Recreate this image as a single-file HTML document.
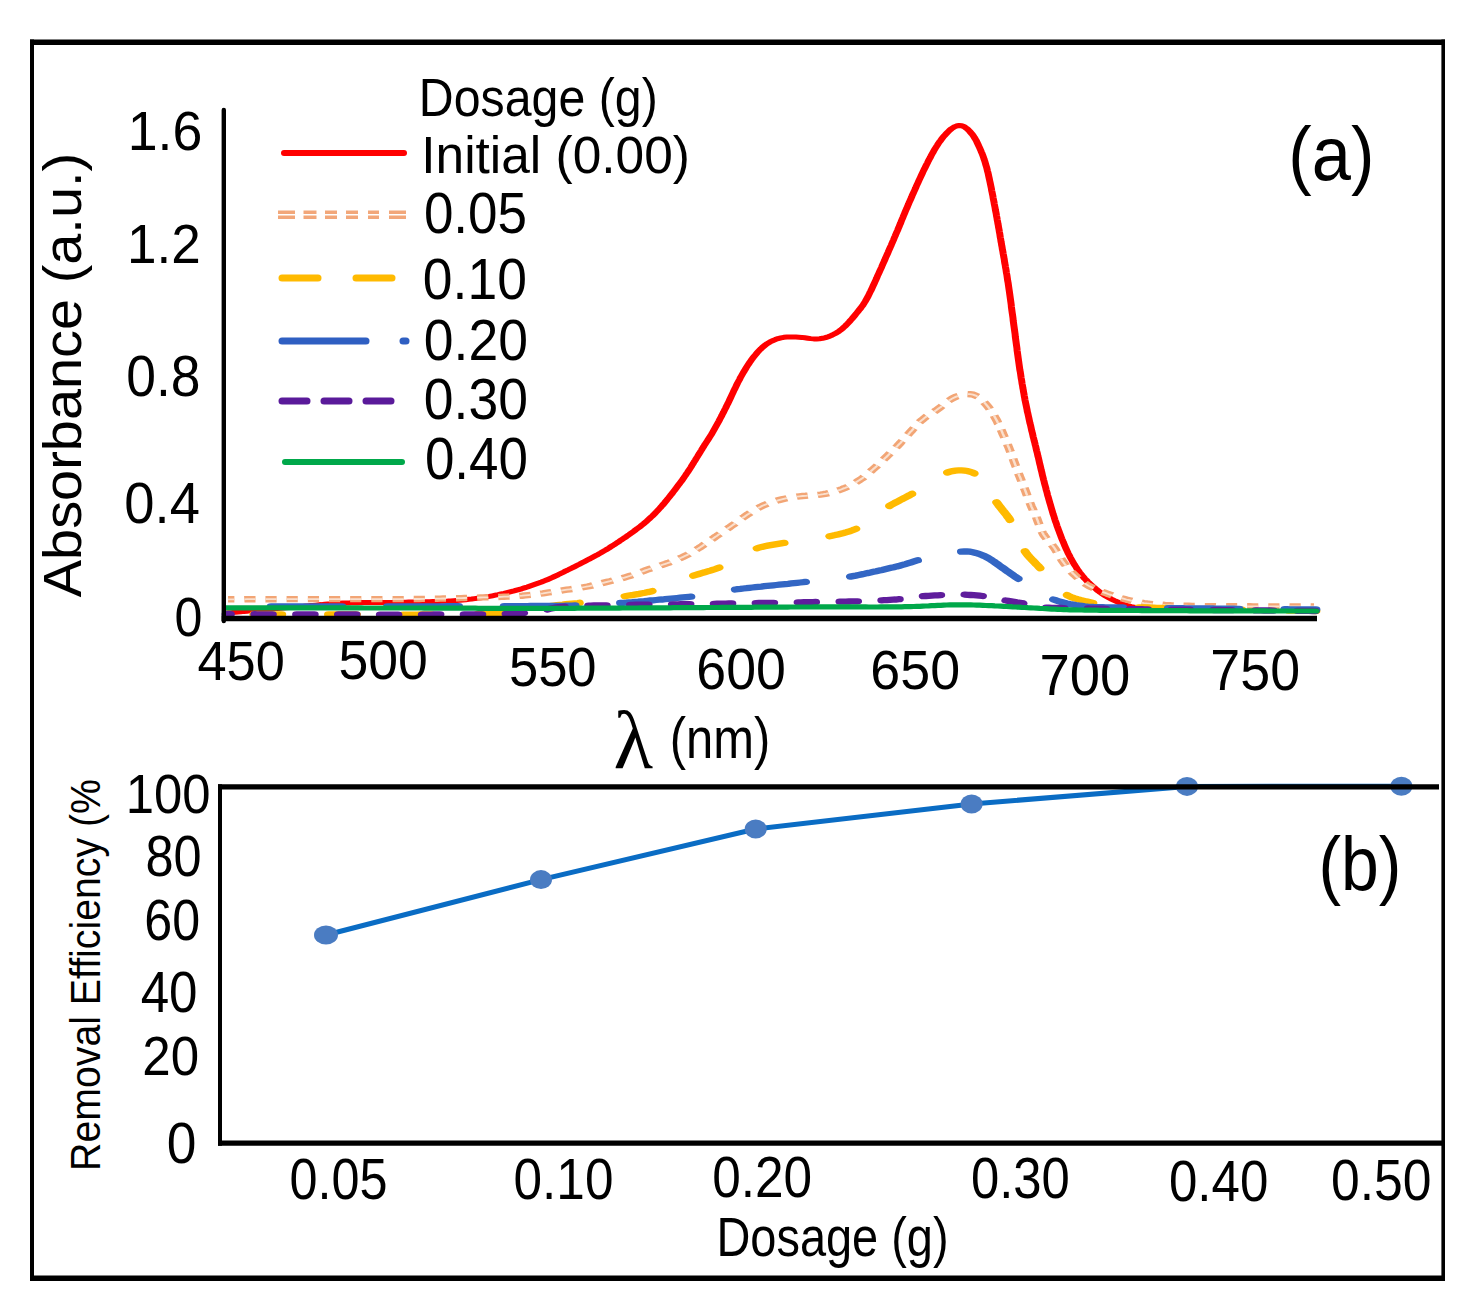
<!DOCTYPE html>
<html><head><meta charset="utf-8"><title>Chart</title>
<style>html,body{margin:0;padding:0;background:#fff;width:1479px;height:1308px;overflow:hidden} svg{display:block}</style>
</head><body>
<svg width="1479" height="1308" viewBox="0 0 1479 1308">
<style>
.ss{font-family:"Liberation Sans",sans-serif;font-size:100px;fill:#000}
.sr{font-family:"Liberation Serif",serif;font-size:100px;fill:#000}
</style>
<rect x="0" y="0" width="1479" height="1308" fill="#fff"/>
<!-- outer border -->
<g stroke="#000" fill="none">
<line x1="30" y1="42.25" x2="1445" y2="42.25" stroke-width="5.5"/>
<line x1="30" y1="1278.25" x2="1445" y2="1278.25" stroke-width="5.5"/>
<line x1="32" y1="39.5" x2="32" y2="1281" stroke-width="4"/>
<line x1="1443.2" y1="39.5" x2="1443.2" y2="1281" stroke-width="3.6"/>
</g>
<!-- panel a curves -->
<g transform="matrix(1.4 0 0 1 -89.600 0)" fill="none">
<path d="M225.4,613.0 227.6,612.7 229.7,612.5 231.8,612.2 234.0,611.9 236.1,611.7 238.2,611.4 240.4,611.2 242.5,610.9 244.7,610.6 246.8,610.4 248.9,610.1 251.1,609.8 253.2,609.6 255.3,609.3 257.5,609.0 259.6,608.8 261.7,608.5 263.9,608.2 266.0,608.0 268.2,607.7 270.3,607.5 272.4,607.2 274.6,606.9 276.7,606.7 278.8,606.4 281.0,606.2 283.1,605.9 285.2,605.6 287.4,605.4 289.5,605.1 291.7,604.8 293.8,604.6 295.9,604.3 298.1,604.1 300.2,603.9 302.3,603.7 304.5,603.5 306.6,603.3 308.8,603.1 310.9,603.0 313.1,602.9 315.2,602.8 317.3,602.7 319.5,602.7 321.6,602.6 323.8,602.6 325.9,602.6 328.1,602.5 330.2,602.5 332.4,602.5 334.5,602.5 336.6,602.5 338.8,602.5 340.9,602.4 343.1,602.4 345.2,602.4 347.4,602.3 349.5,602.3 351.7,602.2 353.8,602.2 355.9,602.1 358.1,602.1 360.2,602.0 362.4,602.0 364.5,601.9 366.7,601.8 368.8,601.8 370.9,601.7 373.1,601.6 375.2,601.5 377.4,601.4 379.5,601.3 381.7,601.2 383.8,601.1 385.9,600.9 388.1,600.7 390.2,600.5 392.4,600.3 394.5,600.0 396.6,599.7 398.8,599.3 400.9,599.0 403.0,598.6 405.1,598.2 407.3,597.8 409.4,597.4 411.5,596.9 413.6,596.4 415.7,595.8 417.8,595.2 419.9,594.6 422.0,593.9 424.1,593.3 426.2,592.6 428.3,591.9 430.4,591.2 432.4,590.4 434.5,589.6 436.6,588.8 438.6,587.9 440.7,587.0 442.7,586.0 444.7,585.0 446.7,584.0 448.8,583.0 450.8,582.0 452.8,580.9 454.8,579.8 456.7,578.6 458.7,577.4 460.6,576.1 462.6,574.8 464.5,573.5 466.4,572.2 468.3,570.8 470.3,569.5 472.2,568.2 474.1,566.9 476.0,565.5 477.9,564.2 479.8,562.8 481.7,561.4 483.6,560.0 485.6,558.6 487.4,557.2 489.3,555.8 491.2,554.4 493.1,552.9 494.9,551.4 496.8,549.9 498.0,548.8 499.2,547.8 500.4,546.7 501.6,545.6 502.8,544.6 504.0,543.5 505.2,542.4 506.4,541.3 507.6,540.1 508.8,539.0 510.0,537.9 511.2,536.8 512.3,535.6 513.5,534.5 514.7,533.3 515.8,532.2 517.0,531.0 518.1,529.8 519.3,528.6 520.4,527.4 521.6,526.2 522.7,524.9 523.8,523.7 524.9,522.4 526.0,521.1 527.0,519.8 528.1,518.4 529.1,517.1 530.2,515.7 531.2,514.3 532.2,512.8 533.2,511.4 534.2,509.9 535.1,508.5 536.1,507.0 537.0,505.5 538.0,504.0 538.9,502.4 539.8,500.9 540.7,499.3 541.6,497.8 542.5,496.2 543.4,494.6 544.3,493.1 545.1,491.5 546.0,489.9 546.9,488.3 547.7,486.7 548.6,485.1 549.5,483.5 550.3,481.9 551.2,480.3 552.0,478.7 552.8,477.0 553.6,475.4 554.4,473.7 555.2,472.1 556.0,470.4 556.8,468.7 557.6,467.0 558.3,465.3 559.1,463.6 559.8,461.9 560.6,460.2 561.3,458.5 562.1,456.8 562.8,455.1 563.6,453.4 564.3,451.7 565.1,450.0 565.8,448.3 566.6,446.6 567.3,444.9 568.1,443.2 568.9,441.5 569.7,439.9 570.4,438.2 571.2,436.5 572.0,434.8 572.7,433.1 573.4,431.4 574.1,429.6 574.8,427.9 575.5,426.1 576.2,424.4 576.9,422.6 577.6,420.8 578.2,419.1 578.9,417.3 579.6,415.5 580.2,413.7 580.9,412.0 581.5,410.2 582.2,408.4 582.8,406.6 583.4,404.8 584.1,403.0 584.7,401.2 585.3,399.4 585.9,397.6 586.5,395.8 587.1,394.0 587.7,392.2 588.3,390.3 589.0,388.5 589.6,386.7 590.2,384.9 590.8,383.1 591.5,381.4 592.2,379.6 592.8,377.8 593.5,376.1 594.2,374.3 594.9,372.6 595.7,370.9 596.4,369.2 597.1,367.5 597.9,365.8 598.7,364.1 599.5,362.4 600.3,360.8 601.1,359.2 602.0,357.6 602.9,356.0 603.8,354.5 604.7,352.9 605.7,351.4 606.6,350.0 607.7,348.6 608.7,347.2 609.8,346.0 610.9,344.8 612.1,343.6 613.9,342.1 615.8,340.7 617.8,339.6 619.8,338.6 621.8,337.9 623.9,337.3 626.1,337.0 628.2,336.9 630.3,336.9 632.5,337.0 634.6,337.2 636.7,337.4 638.9,337.8 641.0,338.2 643.1,338.6 645.2,338.9 647.3,338.9 649.4,338.7 651.5,338.3 653.6,337.6 655.6,336.7 657.6,335.6 659.5,334.3 661.4,332.9 663.2,331.3 664.4,330.1 665.5,328.9 666.5,327.6 667.6,326.2 668.6,324.8 669.6,323.4 670.6,321.9 671.5,320.4 672.5,318.9 673.4,317.4 674.3,315.9 675.2,314.3 676.1,312.8 677.0,311.2 677.9,309.6 678.8,308.1 679.6,306.5 680.5,304.9 681.2,303.2 682.0,301.5 682.7,299.8 683.4,298.0 684.1,296.3 684.7,294.5 685.3,292.7 686.0,290.9 686.6,289.1 687.2,287.2 687.8,285.4 688.4,283.6 689.0,281.8 689.6,280.0 690.2,278.1 690.7,276.3 691.3,274.5 691.9,272.7 692.5,270.8 693.1,269.0 693.7,267.2 694.2,265.4 694.8,263.5 695.4,261.7 696.0,259.9 696.5,258.0 697.1,256.2 697.7,254.4 698.3,252.5 698.8,250.7 699.4,248.9 700.0,247.0 700.6,245.2 701.1,243.4 701.7,241.5 702.3,239.7 702.8,237.8 703.4,236.0 703.9,234.2 704.5,232.3 705.1,230.5 705.6,228.6 706.2,226.8 706.7,224.9 707.3,223.1 707.8,221.2 708.3,219.4 708.9,217.5 709.4,215.7 710.0,213.8 710.5,212.0 711.1,210.1 711.7,208.3 712.2,206.5 712.8,204.6 713.3,202.8 713.9,200.9 714.5,199.1 715.1,197.3 715.6,195.4 716.2,193.6 716.8,191.8 717.4,190.0 718.0,188.1 718.5,186.3 719.1,184.5 719.7,182.7 720.3,180.8 720.9,179.0 721.5,177.2 722.1,175.4 722.7,173.6 723.3,171.8 723.9,170.0 724.6,168.2 725.2,166.4 725.8,164.6 726.5,162.8 727.1,161.0 727.8,159.2 728.5,157.5 729.1,155.7 729.8,153.9 730.5,152.2 731.2,150.4 731.9,148.7 732.7,147.0 733.5,145.3 734.2,143.6 735.0,142.0 735.9,140.4 736.7,138.8 737.6,137.2 738.6,135.7 739.5,134.2 740.5,132.8 741.5,131.4 742.5,130.0 743.6,128.8 745.3,127.2 747.2,126.0 749.1,125.5 750.9,125.8 752.8,126.8 754.4,128.4 755.5,129.7 756.5,131.1 757.4,132.6 758.3,134.1 759.2,135.7 759.9,137.4 760.7,139.1 761.4,140.8 762.0,142.6 762.6,144.4 763.2,146.2 763.8,148.0 764.4,149.9 764.9,151.7 765.5,153.6 766.0,155.4 766.5,157.3 766.9,159.2 767.4,161.1 767.8,163.0 768.2,164.9 768.6,166.8 769.0,168.8 769.3,170.7 769.7,172.7 770.0,174.6 770.3,176.6 770.6,178.5 770.9,180.5 771.2,182.4 771.5,184.4 771.8,186.4 772.1,188.3 772.3,190.3 772.6,192.2 772.9,194.2 773.2,196.2 773.4,198.1 773.7,200.1 774.0,202.1 774.2,204.0 774.5,206.0 774.8,208.0 775.0,209.9 775.3,211.9 775.6,213.9 775.8,215.8 776.1,217.8 776.3,219.8 776.6,221.8 776.8,223.7 777.1,225.7 777.3,227.7 777.6,229.6 777.8,231.6 778.1,233.6 778.3,235.6 778.5,237.5 778.8,239.5 779.0,241.5 779.3,243.4 779.5,245.4 779.8,247.4 780.0,249.4 780.3,251.3 780.5,253.3 780.8,255.3 781.0,257.2 781.3,259.2 781.5,261.2 781.7,263.2 782.0,265.1 782.2,267.1 782.5,269.1 782.7,271.1 782.9,273.0 783.2,275.0 783.4,277.0 783.6,279.0 783.8,280.9 784.1,282.9 784.3,284.9 784.5,286.9 784.7,288.9 784.9,290.8 785.1,292.8 785.3,294.8 785.5,296.8 785.7,298.8 785.9,300.7 786.1,302.7 786.3,304.7 786.4,306.7 786.6,308.7 786.8,310.7 787.0,312.7 787.2,314.6 787.4,316.6 787.6,318.6 787.7,320.6 787.9,322.6 788.1,324.6 788.3,326.5 788.5,328.5 788.7,330.5 788.9,332.5 789.1,334.5 789.2,336.5 789.4,338.4 789.6,340.4 789.8,342.4 790.0,344.4 790.2,346.4 790.4,348.4 790.5,350.4 790.7,352.3 790.9,354.3 791.1,356.3 791.3,358.3 791.5,360.3 791.7,362.3 791.9,364.2 792.1,366.2 792.3,368.2 792.5,370.2 792.8,372.2 793.0,374.1 793.2,376.1 793.4,378.1 793.7,380.1 793.9,382.0 794.1,384.0 794.4,386.0 794.6,388.0 794.9,389.9 795.1,391.9 795.4,393.9 795.6,395.8 795.9,397.8 796.1,399.8 796.4,401.7 796.7,403.7 797.0,405.7 797.3,407.6 797.6,409.6 797.8,411.5 798.2,413.5 798.5,415.5 798.8,417.4 799.1,419.4 799.4,421.3 799.7,423.3 800.1,425.2 800.4,427.2 800.7,429.1 801.0,431.1 801.4,433.0 801.7,434.9 802.0,436.9 802.4,438.8 802.7,440.8 803.1,442.7 803.4,444.7 803.8,446.6 804.1,448.6 804.4,450.5 804.8,452.4 805.1,454.4 805.4,456.3 805.8,458.3 806.1,460.2 806.4,462.2 806.7,464.1 807.1,466.1 807.4,468.0 807.7,470.0 808.1,471.9 808.4,473.9 808.7,475.8 809.1,477.8 809.4,479.7 809.8,481.6 810.1,483.6 810.5,485.5 810.9,487.4 811.2,489.4 811.6,491.3 812.0,493.3 812.3,495.2 812.7,497.1 813.1,499.0 813.5,501.0 813.9,502.9 814.3,504.8 814.7,506.7 815.1,508.7 815.5,510.6 815.9,512.5 816.3,514.4 816.8,516.3 817.2,518.2 817.6,520.1 818.1,522.0 818.6,523.9 819.0,525.8 819.5,527.7 820.0,529.6 820.5,531.4 821.0,533.3 821.5,535.2 822.0,537.1 822.5,538.9 823.1,540.8 823.6,542.6 824.2,544.5 824.7,546.3 825.3,548.1 825.9,550.0 826.5,551.8 827.1,553.6 827.8,555.4 828.4,557.1 829.1,558.9 829.8,560.6 830.5,562.4 831.2,564.1 832.0,565.8 832.8,567.5 833.5,569.2 834.4,570.8 835.2,572.4 836.1,574.0 837.0,575.6 837.9,577.1 838.8,578.6 839.8,580.0 840.8,581.5 841.8,582.9 842.9,584.3 843.9,585.6 845.0,586.9 846.1,588.2 847.2,589.5 848.3,590.7 849.4,591.9 850.6,593.1 851.8,594.2 853.0,595.3 854.2,596.3 856.1,597.8 858.0,599.2 859.9,600.5 861.8,601.7 863.8,602.9 865.8,604.0 867.8,605.0 869.9,605.8 871.9,606.6 874.0,607.1 876.2,607.6 878.3,607.9 880.4,608.1 882.6,608.3 884.7,608.5 886.8,608.6 889.0,608.8 891.1,608.9 893.3,609.0 895.4,609.1 897.6,609.2 899.7,609.2 901.8,609.3 904.0,609.4 906.1,609.5 908.3,609.5 910.4,609.6 912.6,609.7 914.7,609.8 916.9,609.8 919.0,609.9 921.1,610.0 921.1,610.0" stroke="#FF0000" stroke-width="5" stroke-linecap="round" stroke-linejoin="round"/>
<path d="M226.9,599.3 229.0,599.3 231.1,599.3 231.4,599.3 M238.5,599.3 240.4,599.2 242.6,599.2 244.7,599.2 246.5,599.2 M253.6,599.2 255.5,599.2 257.6,599.2 259.7,599.2 261.6,599.2 M268.7,599.1 270.5,599.1 272.6,599.1 274.8,599.1 276.7,599.1 M283.9,599.1 285.5,599.1 287.6,599.1 289.8,599.1 291.9,599.1 M299.0,599.1 300.5,599.1 302.6,599.1 304.8,599.1 306.9,599.1 307.0,599.1 M314.1,599.1 316.2,599.1 318.4,599.1 320.5,599.1 322.1,599.1 M329.2,599.1 331.2,599.1 333.4,599.1 335.5,599.1 337.2,599.1 M344.4,599.1 346.2,599.1 348.4,599.1 350.5,599.1 352.4,599.1 M359.5,599.0 361.3,599.0 363.4,599.0 365.5,598.9 367.5,598.9 M374.6,598.7 376.3,598.7 378.4,598.6 380.5,598.5 382.6,598.5 M389.7,598.2 391.3,598.2 393.4,598.1 395.6,598.0 397.7,597.9 397.7,597.9 M404.8,597.6 407.0,597.5 409.1,597.4 411.3,597.4 412.8,597.3 M419.9,597.0 422.0,596.9 424.1,596.7 426.3,596.6 427.9,596.5 M435.0,595.9 437.0,595.7 439.1,595.4 441.2,595.1 443.0,594.9 M450.0,593.6 451.9,593.3 454.0,592.8 456.1,592.4 457.8,592.1 M464.8,590.6 466.7,590.2 468.9,589.7 471.0,589.3 472.6,589.0 M479.6,587.5 481.6,587.0 483.7,586.5 485.8,585.9 487.3,585.4 M494.0,583.1 495.5,582.6 497.6,581.9 499.7,581.2 501.6,580.5 M508.4,578.2 510.1,577.6 512.1,576.7 514.2,575.8 515.7,575.1 M522.1,571.8 523.6,571.1 524.9,570.4 526.3,569.7 528.3,568.8 529.3,568.4 M535.8,565.5 537.2,564.8 539.2,563.9 540.6,563.2 541.9,562.6 543.0,562.0 M549.2,558.6 550.5,557.8 551.8,556.9 553.1,556.1 554.4,555.2 555.7,554.3 555.9,554.1 M561.4,549.6 563.1,548.2 564.3,547.1 565.5,546.0 566.6,544.9 567.3,544.3 M572.4,539.3 573.7,538.1 574.9,536.9 576.1,535.8 577.2,534.7 578.2,533.8 M583.4,528.9 585.0,527.4 586.1,526.3 587.3,525.1 588.5,524.0 589.1,523.3 M594.1,518.2 595.4,517.0 596.6,515.8 597.8,514.7 599.0,513.6 599.9,512.7 M605.4,508.1 607.0,507.0 608.2,506.1 609.5,505.3 610.9,504.5 612.1,503.8 M618.6,500.8 620.3,500.1 622.4,499.4 624.5,498.7 626.1,498.2 M633.1,496.7 635.1,496.3 637.2,496.0 639.4,495.8 641.0,495.6 M648.1,494.9 650.0,494.6 652.2,494.2 654.3,493.6 655.9,493.1 M662.5,490.5 663.9,489.9 665.2,489.2 666.6,488.4 667.9,487.7 669.2,486.9 669.5,486.7 M675.3,482.5 676.7,481.2 677.9,480.1 679.1,479.0 680.3,477.9 681.1,477.0 M685.7,471.6 686.9,470.2 687.9,468.9 689.0,467.6 690.1,466.2 690.7,465.4 M695.1,459.7 696.3,458.0 697.4,456.6 698.4,455.2 699.4,453.8 699.8,453.3 M704.0,447.5 705.0,446.1 706.0,444.6 707.0,443.2 707.9,441.7 708.5,440.9 M712.4,434.9 713.3,433.6 714.2,432.1 715.2,430.7 716.1,429.2 716.8,428.2 M720.7,422.3 722.1,420.5 723.2,419.3 724.3,418.0 725.4,416.8 726.0,416.3 M731.3,411.6 732.6,410.4 733.8,409.2 735.0,408.0 736.1,406.8 736.9,405.9 M741.7,400.6 742.9,399.6 744.1,398.6 745.3,397.7 746.6,396.9 748.0,396.2 748.3,396.1 M755.1,394.1 756.9,394.2 759.0,394.6 760.9,395.6 762.1,396.5 762.4,396.7 M766.9,402.2 767.9,403.7 768.8,405.2 769.7,406.7 770.6,408.3 771.0,409.1 M774.0,415.6 774.8,417.6 775.5,419.3 776.2,421.1 776.8,422.9 776.9,423.0 M779.1,429.8 779.8,432.0 780.3,433.8 780.9,435.6 781.5,437.4 M783.6,444.2 784.0,445.8 784.6,447.6 785.1,449.5 785.6,451.3 785.8,451.9 M787.6,458.8 788.1,460.7 788.6,462.6 789.1,464.5 789.6,466.3 789.7,466.5 M791.5,473.4 792.1,475.7 792.7,477.6 793.2,479.4 793.7,481.1 M795.6,488.0 796.1,489.7 796.6,491.5 797.1,493.4 797.6,495.3 797.7,495.7 M799.6,502.6 800.2,504.6 800.7,506.4 801.3,508.3 801.9,510.1 801.9,510.2 M804.2,517.0 804.8,519.2 805.3,521.1 805.8,523.0 806.3,524.7 M808.2,531.5 808.8,533.1 809.5,534.8 810.3,536.4 811.2,538.0 811.6,538.8 M815.4,544.8 816.2,546.3 817.1,547.9 817.9,549.6 818.6,551.3 819.0,552.0 M821.8,558.5 822.7,560.6 823.6,562.3 824.4,563.9 825.3,565.4 825.4,565.6 M829.2,571.7 830.5,573.6 831.6,575.0 832.6,576.4 833.7,577.7 834.0,578.1 M838.8,583.3 840.5,584.9 841.7,585.9 843.0,586.8 844.3,587.7 845.1,588.2 M851.3,591.8 852.9,592.6 854.2,593.3 855.5,594.0 856.9,594.6 858.4,595.4 M865.0,598.2 866.5,598.7 868.5,599.5 870.6,600.2 872.5,600.8 M879.4,602.7 881.1,603.1 883.3,603.5 885.4,603.8 887.3,604.1 M894.3,604.8 896.1,605.0 898.2,605.1 900.4,605.3 902.3,605.4 M909.4,605.7 911.1,605.7 913.2,605.8 915.4,605.9 917.4,605.9 M924.6,606.1 926.1,606.1 928.2,606.1 930.4,606.1 932.5,606.2 932.6,606.2 M939.7,606.2 941.8,606.3 944.0,606.3 946.1,606.3 947.7,606.3 M954.8,606.3 956.8,606.3 959.0,606.4 961.1,606.4 962.8,606.4 M969.9,606.4 971.8,606.4 974.0,606.4 976.1,606.4 977.9,606.4 M985.1,606.4 986.8,606.4 989.0,606.5 991.1,606.5 993.1,606.5 M1000.2,606.5 1001.9,606.5 1002.6,606.5" stroke="#F2A575" stroke-width="6.4" stroke-linecap="butt"/>
<path d="M226.9,599.3 229.0,599.3 231.1,599.3 231.4,599.3 M238.5,599.3 240.4,599.2 242.6,599.2 244.7,599.2 246.5,599.2 M253.6,599.2 255.5,599.2 257.6,599.2 259.7,599.2 261.6,599.2 M268.7,599.1 270.5,599.1 272.6,599.1 274.8,599.1 276.7,599.1 M283.9,599.1 285.5,599.1 287.6,599.1 289.8,599.1 291.9,599.1 M299.0,599.1 300.5,599.1 302.6,599.1 304.8,599.1 306.9,599.1 307.0,599.1 M314.1,599.1 316.2,599.1 318.4,599.1 320.5,599.1 322.1,599.1 M329.2,599.1 331.2,599.1 333.4,599.1 335.5,599.1 337.2,599.1 M344.4,599.1 346.2,599.1 348.4,599.1 350.5,599.1 352.4,599.1 M359.5,599.0 361.3,599.0 363.4,599.0 365.5,598.9 367.5,598.9 M374.6,598.7 376.3,598.7 378.4,598.6 380.5,598.5 382.6,598.5 M389.7,598.2 391.3,598.2 393.4,598.1 395.6,598.0 397.7,597.9 397.7,597.9 M404.8,597.6 407.0,597.5 409.1,597.4 411.3,597.4 412.8,597.3 M419.9,597.0 422.0,596.9 424.1,596.7 426.3,596.6 427.9,596.5 M435.0,595.9 437.0,595.7 439.1,595.4 441.2,595.1 443.0,594.9 M450.0,593.6 451.9,593.3 454.0,592.8 456.1,592.4 457.8,592.1 M464.8,590.6 466.7,590.2 468.9,589.7 471.0,589.3 472.6,589.0 M479.6,587.5 481.6,587.0 483.7,586.5 485.8,585.9 487.3,585.4 M494.0,583.1 495.5,582.6 497.6,581.9 499.7,581.2 501.6,580.5 M508.4,578.2 510.1,577.6 512.1,576.7 514.2,575.8 515.7,575.1 M522.1,571.8 523.6,571.1 524.9,570.4 526.3,569.7 528.3,568.8 529.3,568.4 M535.8,565.5 537.2,564.8 539.2,563.9 540.6,563.2 541.9,562.6 543.0,562.0 M549.2,558.6 550.5,557.8 551.8,556.9 553.1,556.1 554.4,555.2 555.7,554.3 555.9,554.1 M561.4,549.6 563.1,548.2 564.3,547.1 565.5,546.0 566.6,544.9 567.3,544.3 M572.4,539.3 573.7,538.1 574.9,536.9 576.1,535.8 577.2,534.7 578.2,533.8 M583.4,528.9 585.0,527.4 586.1,526.3 587.3,525.1 588.5,524.0 589.1,523.3 M594.1,518.2 595.4,517.0 596.6,515.8 597.8,514.7 599.0,513.6 599.9,512.7 M605.4,508.1 607.0,507.0 608.2,506.1 609.5,505.3 610.9,504.5 612.1,503.8 M618.6,500.8 620.3,500.1 622.4,499.4 624.5,498.7 626.1,498.2 M633.1,496.7 635.1,496.3 637.2,496.0 639.4,495.8 641.0,495.6 M648.1,494.9 650.0,494.6 652.2,494.2 654.3,493.6 655.9,493.1 M662.5,490.5 663.9,489.9 665.2,489.2 666.6,488.4 667.9,487.7 669.2,486.9 669.5,486.7 M675.3,482.5 676.7,481.2 677.9,480.1 679.1,479.0 680.3,477.9 681.1,477.0 M685.7,471.6 686.9,470.2 687.9,468.9 689.0,467.6 690.1,466.2 690.7,465.4 M695.1,459.7 696.3,458.0 697.4,456.6 698.4,455.2 699.4,453.8 699.8,453.3 M704.0,447.5 705.0,446.1 706.0,444.6 707.0,443.2 707.9,441.7 708.5,440.9 M712.4,434.9 713.3,433.6 714.2,432.1 715.2,430.7 716.1,429.2 716.8,428.2 M720.7,422.3 722.1,420.5 723.2,419.3 724.3,418.0 725.4,416.8 726.0,416.3 M731.3,411.6 732.6,410.4 733.8,409.2 735.0,408.0 736.1,406.8 736.9,405.9 M741.7,400.6 742.9,399.6 744.1,398.6 745.3,397.7 746.6,396.9 748.0,396.2 748.3,396.1 M755.1,394.1 756.9,394.2 759.0,394.6 760.9,395.6 762.1,396.5 762.4,396.7 M766.9,402.2 767.9,403.7 768.8,405.2 769.7,406.7 770.6,408.3 771.0,409.1 M774.0,415.6 774.8,417.6 775.5,419.3 776.2,421.1 776.8,422.9 776.9,423.0 M779.1,429.8 779.8,432.0 780.3,433.8 780.9,435.6 781.5,437.4 M783.6,444.2 784.0,445.8 784.6,447.6 785.1,449.5 785.6,451.3 785.8,451.9 M787.6,458.8 788.1,460.7 788.6,462.6 789.1,464.5 789.6,466.3 789.7,466.5 M791.5,473.4 792.1,475.7 792.7,477.6 793.2,479.4 793.7,481.1 M795.6,488.0 796.1,489.7 796.6,491.5 797.1,493.4 797.6,495.3 797.7,495.7 M799.6,502.6 800.2,504.6 800.7,506.4 801.3,508.3 801.9,510.1 801.9,510.2 M804.2,517.0 804.8,519.2 805.3,521.1 805.8,523.0 806.3,524.7 M808.2,531.5 808.8,533.1 809.5,534.8 810.3,536.4 811.2,538.0 811.6,538.8 M815.4,544.8 816.2,546.3 817.1,547.9 817.9,549.6 818.6,551.3 819.0,552.0 M821.8,558.5 822.7,560.6 823.6,562.3 824.4,563.9 825.3,565.4 825.4,565.6 M829.2,571.7 830.5,573.6 831.6,575.0 832.6,576.4 833.7,577.7 834.0,578.1 M838.8,583.3 840.5,584.9 841.7,585.9 843.0,586.8 844.3,587.7 845.1,588.2 M851.3,591.8 852.9,592.6 854.2,593.3 855.5,594.0 856.9,594.6 858.4,595.4 M865.0,598.2 866.5,598.7 868.5,599.5 870.6,600.2 872.5,600.8 M879.4,602.7 881.1,603.1 883.3,603.5 885.4,603.8 887.3,604.1 M894.3,604.8 896.1,605.0 898.2,605.1 900.4,605.3 902.3,605.4 M909.4,605.7 911.1,605.7 913.2,605.8 915.4,605.9 917.4,605.9 M924.6,606.1 926.1,606.1 928.2,606.1 930.4,606.1 932.5,606.2 932.6,606.2 M939.7,606.2 941.8,606.3 944.0,606.3 946.1,606.3 947.7,606.3 M954.8,606.3 956.8,606.3 959.0,606.4 961.1,606.4 962.8,606.4 M969.9,606.4 971.8,606.4 974.0,606.4 976.1,606.4 977.9,606.4 M985.1,606.4 986.8,606.4 989.0,606.5 991.1,606.5 993.1,606.5 M1000.2,606.5 1001.9,606.5 1002.6,606.5" stroke="#FAE0CE" stroke-width="1.8" stroke-linecap="butt"/>
<path d="M245.2,614.3 246.9,614.3 249.0,614.3 251.2,614.3 253.3,614.3 255.5,614.3 257.6,614.3 259.8,614.3 261.9,614.3 264.1,614.3 265.3,614.3 M298.6,614.5 300.6,614.5 302.7,614.5 304.8,614.5 307.0,614.5 309.1,614.5 311.3,614.5 313.4,614.5 315.6,614.5 317.7,614.5 318.7,614.6 M352.0,614.6 353.5,614.6 355.6,614.6 357.8,614.6 359.9,614.6 362.1,614.6 364.2,614.5 366.4,614.5 368.5,614.5 370.7,614.5 372.1,614.5 M405.4,614.0 407.2,614.0 409.3,613.9 411.5,613.8 413.6,613.7 415.7,613.6 417.9,613.5 420.0,613.3 422.2,613.2 424.3,613.0 425.5,612.9 M457.9,605.8 459.6,605.5 461.7,605.2 463.9,604.9 466.0,604.6 468.1,604.2 470.3,603.9 472.4,603.6 474.6,603.3 476.7,603.0 477.8,602.8 M510.4,596.2 512.1,595.8 514.2,595.3 516.3,594.9 518.4,594.4 520.6,593.9 522.7,593.3 524.8,592.8 526.9,592.1 529.0,591.5 529.9,591.1 M559.3,575.7 561.1,574.9 563.2,574.0 565.2,573.1 567.3,572.3 569.4,571.4 571.4,570.6 573.5,569.7 575.5,568.7 576.8,568.0 577.7,567.6 M604.7,548.3 606.2,547.7 608.2,546.9 610.3,546.2 612.4,545.6 614.5,545.1 616.6,544.6 618.8,544.1 620.9,543.6 623.0,543.1 624.1,542.9 M656.6,536.2 658.4,535.7 660.5,535.1 662.6,534.4 664.6,533.7 666.7,533.0 668.8,532.2 670.8,531.3 672.9,530.3 674.2,529.6 675.4,528.9 M699.3,506.0 700.8,504.7 702.1,503.8 703.3,502.8 704.6,501.9 705.9,500.9 707.1,500.0 708.4,499.1 709.7,498.2 711.0,497.3 712.2,496.3 713.5,495.4 714.7,494.4 715.4,493.9 M740.7,472.5 742.4,471.8 744.4,471.1 746.5,470.6 748.7,470.4 750.8,470.4 752.9,470.6 755.0,471.0 757.1,471.8 759.0,472.8 759.9,473.4 M775.8,502.2 776.9,504.3 777.7,505.9 778.6,507.4 779.5,509.0 780.4,510.6 781.3,512.1 782.2,513.7 783.1,515.3 783.9,516.9 784.8,518.5 785.4,519.9 M796.1,551.3 797.1,553.2 798.0,554.8 798.9,556.3 799.8,557.8 800.8,559.2 801.8,560.7 802.8,562.1 803.8,563.6 804.8,565.0 805.8,566.4 806.8,567.9 807.0,568.2 M826.2,595.1 827.6,596.1 828.9,596.9 830.2,597.6 831.6,598.3 833.6,599.2 835.7,600.0 837.8,600.7 839.9,601.4 842.0,602.0 844.1,602.7 844.7,602.9 M877.5,607.3 879.5,607.4 881.7,607.5 883.8,607.5 886.0,607.6 888.1,607.7 890.3,607.8 892.4,607.9 894.6,607.9 896.7,608.0 897.6,608.0 M930.9,609.0 932.5,609.1 934.6,609.1 936.8,609.2 938.9,609.3 941.0,609.3 943.2,609.4 945.3,609.4 947.5,609.5 949.6,609.5 951.0,609.6 M984.3,610.5 986.1,610.5 988.3,610.6 990.4,610.6 992.6,610.7 994.7,610.7 996.8,610.8 999.0,610.9 1001.1,610.9 1003.3,611.0 1004.0,611.0" stroke="#FFBA00" stroke-width="6.3" stroke-linecap="round"/>
<path d="M257.6,606.4 259.8,606.4 261.9,606.4 264.0,606.4 266.2,606.4 268.3,606.4 270.5,606.4 272.6,606.4 274.8,606.4 276.9,606.4 279.1,606.4 281.2,606.4 283.4,606.4 285.5,606.4 287.6,606.4 289.8,606.4 291.9,606.4 294.1,606.4 296.2,606.4 298.4,606.4 300.5,606.4 302.7,606.4 304.8,606.4 307.0,606.4 308.3,606.4 M340.8,606.3 342.7,606.3 344.9,606.3 347.0,606.3 349.2,606.3 351.3,606.3 353.4,606.3 355.6,606.3 357.7,606.3 359.9,606.3 362.0,606.3 364.2,606.3 366.3,606.3 368.5,606.3 370.6,606.3 372.8,606.3 374.9,606.3 377.0,606.3 379.2,606.3 381.3,606.3 383.5,606.2 385.6,606.2 387.8,606.2 389.9,606.2 391.6,606.2 M424.1,606.1 425.7,606.1 427.8,606.1 430.0,606.1 432.1,606.1 434.3,606.1 436.4,606.1 438.5,606.1 440.7,606.1 442.8,606.0 445.0,606.0 447.1,606.0 449.3,606.0 451.4,606.0 453.6,606.0 455.7,605.9 457.9,605.9 460.0,605.9 462.1,605.9 464.3,605.8 466.4,605.8 468.6,605.7 470.7,605.7 472.8,605.6 474.8,605.4 M507.2,603.0 509.2,602.8 511.3,602.6 513.4,602.3 515.6,602.1 517.7,601.8 519.9,601.6 522.0,601.3 524.1,601.1 526.3,600.8 528.4,600.5 530.5,600.3 532.7,600.0 534.8,599.7 537.0,599.5 539.1,599.2 541.2,598.9 543.4,598.6 545.5,598.3 547.6,598.0 549.8,597.7 551.9,597.4 554.0,597.1 556.2,596.8 557.5,596.6 M589.2,589.5 590.8,589.2 592.9,588.9 595.0,588.5 597.2,588.2 599.3,587.8 601.4,587.5 603.6,587.2 605.7,586.9 607.8,586.6 610.0,586.2 612.1,585.9 614.2,585.6 616.4,585.3 618.5,585.0 620.6,584.7 622.8,584.4 624.9,584.1 627.0,583.8 629.2,583.4 631.3,583.1 633.4,582.8 635.6,582.5 637.7,582.2 639.4,581.9 M671.4,576.6 673.2,576.1 675.3,575.6 677.4,575.0 679.5,574.4 681.6,573.8 683.7,573.1 685.8,572.5 687.9,571.8 690.0,571.2 692.1,570.5 694.1,569.9 696.2,569.2 698.3,568.5 700.4,567.8 702.5,567.2 704.6,566.4 706.7,565.7 708.7,564.9 710.8,564.1 712.9,563.2 714.9,562.3 716.9,561.4 719.0,560.4 719.4,560.3 M750.7,551.6 752.6,551.4 754.7,551.5 756.8,551.7 758.9,552.2 761.0,552.9 763.1,553.8 764.4,554.5 765.7,555.2 767.0,556.0 768.3,556.9 769.6,557.8 770.8,558.8 772.0,559.9 773.2,561.0 774.4,562.1 775.5,563.3 776.7,564.4 777.9,565.6 779.0,566.8 780.2,567.9 781.4,569.1 782.5,570.2 783.7,571.4 784.9,572.5 786.1,573.7 787.2,574.8 788.4,576.0 789.6,577.1 790.8,578.2 791.4,578.8 M816.4,599.5 817.9,600.2 819.9,601.2 822.0,602.0 824.1,602.8 826.1,603.5 828.2,604.1 830.3,604.6 832.5,605.1 834.6,605.5 836.7,605.9 838.8,606.3 841.0,606.6 843.1,606.8 845.2,607.0 847.4,607.1 849.5,607.2 851.7,607.2 853.8,607.3 856.0,607.3 858.1,607.4 860.3,607.4 862.4,607.4 864.6,607.5 866.0,607.5 M898.5,608.1 900.3,608.1 902.5,608.1 904.6,608.2 906.7,608.2 908.9,608.2 911.0,608.3 913.2,608.3 915.3,608.3 917.5,608.4 919.6,608.4 921.8,608.4 923.9,608.4 926.1,608.5 928.2,608.5 930.3,608.5 932.5,608.6 934.6,608.6 936.8,608.6 938.9,608.6 941.1,608.7 943.2,608.7 945.4,608.7 947.5,608.8 949.2,608.8 M981.7,609.2 983.3,609.2 985.4,609.3 987.6,609.3 989.7,609.3 991.8,609.3 994.0,609.4 996.1,609.4 998.3,609.4 1000.4,609.5 1002.6,609.5 1004.0,609.5" stroke="#3366C4" stroke-width="6.3" stroke-linecap="round"/>
<path d="M225.4,614.2 227.6,614.2 228.6,614.2 M245.9,614.2 247.6,614.3 249.7,614.3 251.9,614.3 254.0,614.3 256.2,614.3 258.3,614.3 258.6,614.3 M275.8,614.4 277.6,614.4 279.8,614.4 281.9,614.4 284.1,614.4 286.2,614.4 288.3,614.4 288.5,614.4 M305.7,614.5 307.7,614.5 309.8,614.5 311.9,614.5 314.1,614.5 316.2,614.5 318.4,614.5 318.4,614.5 M335.6,614.6 337.7,614.6 339.8,614.6 342.0,614.6 344.1,614.6 346.3,614.6 348.3,614.6 M365.6,614.6 367.7,614.6 369.9,614.6 372.0,614.6 374.1,614.5 376.3,614.5 378.3,614.5 M395.5,614.4 397.0,614.4 399.2,614.4 401.3,614.4 403.5,614.3 405.6,614.3 407.8,614.3 408.2,614.3 M425.4,613.8 427.1,613.8 429.2,613.7 431.3,613.5 433.5,613.4 435.6,613.3 437.8,613.1 438.1,613.0 M454.9,609.5 456.8,608.8 458.8,608.2 460.9,607.6 463.1,607.2 465.2,606.9 467.2,606.7 M484.4,605.6 485.9,605.6 488.1,605.5 490.2,605.5 492.3,605.4 494.5,605.3 496.6,605.3 497.1,605.3 M514.3,604.8 515.9,604.8 518.1,604.7 520.2,604.7 522.4,604.7 524.5,604.6 526.7,604.6 527.0,604.6 M544.2,604.3 546.0,604.3 548.1,604.3 550.3,604.2 552.4,604.2 554.5,604.2 556.7,604.1 556.9,604.1 M574.1,603.8 576.0,603.7 578.1,603.7 580.3,603.6 582.4,603.6 584.6,603.5 586.7,603.5 586.8,603.5 M604.0,603.1 606.0,603.0 608.2,603.0 610.3,602.9 612.4,602.9 614.6,602.8 616.7,602.8 M634.0,602.3 636.0,602.3 638.2,602.2 640.3,602.2 642.5,602.1 644.6,602.1 646.6,602.0 M663.9,601.7 666.1,601.6 668.2,601.6 670.4,601.5 672.5,601.4 674.6,601.3 676.6,601.3 M693.8,600.3 695.4,600.2 697.5,600.1 699.6,599.9 701.8,599.7 703.9,599.5 706.1,599.2 706.4,599.2 M723.4,596.2 725.2,596.0 727.3,595.8 729.5,595.6 731.6,595.4 733.8,595.3 735.9,595.1 736.0,595.1 M753.2,594.6 755.2,594.8 757.3,595.0 759.5,595.2 761.6,595.4 763.7,595.7 765.8,596.0 M782.4,600.5 784.1,600.9 786.2,601.4 788.3,601.9 790.4,602.4 792.6,602.8 794.6,603.3 794.8,603.4 M811.3,607.6 813.1,607.7 815.3,607.8 817.4,607.9 819.5,607.9 821.7,608.0 823.8,608.1 824.0,608.1 M841.2,608.5 843.1,608.6 845.3,608.6 847.4,608.6 849.6,608.7 851.7,608.7 853.9,608.8 853.9,608.8 M871.1,609.1 873.2,609.1 875.3,609.1 877.5,609.2 879.6,609.2 881.7,609.3 883.8,609.3 M901.1,609.6 903.2,609.6 905.3,609.6 907.5,609.6 909.6,609.7 911.8,609.7 913.7,609.7 M931.0,610.0 932.5,610.0 934.6,610.0 936.8,610.1 938.9,610.1 941.1,610.1 943.2,610.2 943.7,610.2 M960.9,610.4 962.5,610.4 964.7,610.4 966.8,610.5 969.0,610.5 971.1,610.5 973.3,610.6 973.6,610.6 M990.8,610.8 992.6,610.8 994.7,610.9 996.9,610.9 999.0,610.9 1001.1,611.0 1003.3,611.0 1003.5,611.0" stroke="#5F1D9C" stroke-width="6.3" stroke-linecap="round"/>
<path d="M225.4,607.8 227.6,607.8 229.7,607.8 231.9,607.8 234.0,607.8 236.2,607.8 238.3,607.8 240.4,607.8 242.6,607.8 244.7,607.8 246.9,607.8 249.0,607.8 251.2,607.8 253.3,607.8 255.5,607.8 257.6,607.8 259.8,607.9 261.9,607.9 264.0,607.9 266.2,607.9 268.3,607.9 270.5,607.9 272.6,607.9 274.8,607.9 276.9,607.9 279.1,607.9 281.2,607.9 283.3,607.9 285.5,607.9 287.6,607.9 289.8,607.9 291.9,607.9 294.1,607.9 296.2,607.9 298.4,607.9 300.5,607.9 302.7,607.9 304.8,607.9 306.9,607.9 309.1,607.9 311.2,607.9 313.4,607.9 315.5,607.9 317.7,607.9 319.8,607.9 322.0,607.9 324.1,608.0 326.3,608.0 328.4,608.0 330.5,608.0 332.7,608.0 334.8,608.0 337.0,608.0 339.1,608.0 341.3,608.0 343.4,608.0 345.6,608.0 347.7,608.0 349.8,608.0 352.0,608.0 354.1,608.0 356.3,608.0 358.4,608.0 360.6,608.0 362.7,608.0 364.9,608.0 367.0,608.1 369.2,608.1 371.3,608.1 373.4,608.1 375.6,608.1 377.7,608.1 379.9,608.1 382.0,608.1 384.2,608.1 386.3,608.2 388.5,608.2 390.6,608.2 392.8,608.2 394.9,608.2 397.0,608.2 399.2,608.2 401.3,608.2 403.5,608.2 405.6,608.3 407.8,608.3 409.9,608.3 412.1,608.3 414.2,608.3 416.3,608.3 418.5,608.3 420.6,608.3 422.8,608.3 424.9,608.3 427.1,608.3 429.2,608.3 431.4,608.3 433.5,608.3 435.7,608.3 437.8,608.3 439.9,608.3 442.1,608.3 444.2,608.3 446.4,608.3 448.5,608.3 450.7,608.3 452.8,608.3 455.0,608.3 457.1,608.3 459.3,608.3 461.4,608.3 463.5,608.3 465.7,608.3 467.8,608.3 470.0,608.3 472.1,608.3 474.3,608.3 476.4,608.2 478.6,608.2 480.7,608.2 482.8,608.2 485.0,608.2 487.1,608.2 489.3,608.2 491.4,608.2 493.6,608.1 495.7,608.1 497.9,608.1 500.0,608.1 502.2,608.1 504.3,608.1 506.4,608.1 508.6,608.0 510.7,608.0 512.9,608.0 515.0,608.0 517.2,608.0 519.3,608.0 521.5,607.9 523.6,607.9 525.8,607.9 527.9,607.9 530.0,607.9 532.2,607.9 534.3,607.8 536.5,607.8 538.6,607.8 540.8,607.8 542.9,607.8 545.1,607.7 547.2,607.7 549.3,607.7 551.5,607.7 553.6,607.7 555.8,607.7 557.9,607.6 560.1,607.6 562.2,607.6 564.4,607.6 566.5,607.6 568.7,607.5 570.8,607.5 572.9,607.5 575.1,607.5 577.2,607.5 579.4,607.4 581.5,607.4 583.7,607.4 585.8,607.4 588.0,607.4 590.1,607.4 592.3,607.3 594.4,607.3 596.5,607.3 598.7,607.3 600.8,607.3 603.0,607.2 605.1,607.2 607.3,607.2 609.4,607.2 611.6,607.2 613.7,607.2 615.8,607.1 618.0,607.1 620.1,607.1 622.3,607.1 624.4,607.1 626.6,607.1 628.7,607.0 630.9,607.0 633.0,607.0 635.2,607.0 637.3,607.0 639.4,607.0 641.6,607.0 643.7,607.0 645.9,606.9 648.0,606.9 650.2,606.9 652.3,606.9 654.5,606.9 656.6,606.9 658.8,606.9 660.9,606.9 663.0,606.9 665.2,606.9 667.3,606.9 669.5,606.9 671.6,606.9 673.8,606.9 675.9,606.9 678.1,606.9 680.2,606.9 682.3,606.9 684.5,607.0 686.6,607.0 688.8,607.0 690.9,607.0 693.1,606.9 695.2,606.9 697.4,606.9 699.5,606.9 701.7,606.9 703.8,606.8 705.9,606.8 708.1,606.8 710.2,606.7 712.4,606.6 714.5,606.6 716.7,606.5 718.8,606.4 721.0,606.3 723.1,606.1 725.2,606.0 727.4,605.9 729.5,605.7 731.7,605.6 733.8,605.4 736.0,605.3 738.1,605.1 740.2,605.0 742.4,604.9 744.5,604.9 746.7,604.8 748.8,604.8 751.0,604.8 753.1,604.8 755.3,604.8 757.4,604.9 759.5,605.0 761.7,605.1 763.8,605.2 766.0,605.3 768.1,605.5 770.3,605.6 772.4,605.7 774.5,605.9 776.7,606.0 778.8,606.2 781.0,606.4 783.1,606.5 785.3,606.7 787.4,606.9 789.5,607.0 791.7,607.2 793.8,607.4 796.0,607.5 798.1,607.7 800.2,607.8 802.4,608.0 804.5,608.2 806.7,608.4 808.8,608.5 811.0,608.7 813.1,608.9 815.2,609.1 817.4,609.2 819.5,609.3 821.7,609.5 823.8,609.6 826.0,609.7 828.1,609.8 830.2,609.8 832.4,609.9 834.5,610.0 836.7,610.0 838.8,610.1 841.0,610.1 843.1,610.2 845.3,610.2 847.4,610.2 849.5,610.3 851.7,610.3 853.8,610.3 856.0,610.3 858.1,610.4 860.3,610.4 862.4,610.4 864.6,610.4 866.7,610.5 868.9,610.5 871.0,610.5 873.1,610.5 875.3,610.5 877.4,610.5 879.6,610.6 881.7,610.6 883.9,610.6 886.0,610.6 888.2,610.6 890.3,610.6 892.5,610.6 894.6,610.7 896.7,610.7 898.9,610.7 901.0,610.7 903.2,610.7 905.3,610.7 907.5,610.7 909.6,610.7 911.8,610.7 913.9,610.8 916.0,610.8 918.2,610.8 920.3,610.8 922.5,610.8 924.6,610.8 926.8,610.8 928.9,610.8 931.1,610.8 933.2,610.9 935.4,610.9 937.5,610.9 939.6,610.9 941.8,610.9 943.9,610.9 946.1,610.9 948.2,610.9 950.4,610.9 952.5,610.9 954.7,610.9 956.8,610.9 959.0,610.9 961.1,610.9 963.2,610.9 965.4,610.9 967.5,610.9 969.7,611.0 971.8,611.0 974.0,611.0 976.1,611.0 978.3,611.0 980.4,611.0 982.5,611.0 984.7,611.0 986.8,611.0 989.0,611.0 991.1,611.0 993.3,611.0 995.4,611.0 997.6,611.0 999.7,611.0 1001.9,611.0 1004.0,611.0 1004.0,611.0" stroke="#00A84A" stroke-width="5.2" stroke-linecap="round"/>
</g>
<!-- panel a axes -->
<line x1="223.8" y1="110" x2="223.8" y2="621" stroke="#000" stroke-width="4.4" stroke-linecap="round"/>
<line x1="221.6" y1="618.4" x2="1317" y2="618.4" stroke="#000" stroke-width="5.5"/>
<!-- legend -->
<line x1="284" y1="153" x2="404" y2="153" stroke="#FF0000" stroke-width="6" stroke-linecap="round"/>
<g fill="#F2A77A">
<rect x="278" y="210.5" width="17" height="3.5"/><rect x="278" y="215.5" width="17" height="3.5"/>
<rect x="303.5" y="210.5" width="13" height="3.5"/><rect x="303.5" y="215.5" width="13" height="3.5"/>
<rect x="325" y="210.5" width="12" height="3.5"/><rect x="325" y="215.5" width="12" height="3.5"/>
<rect x="346" y="210.5" width="12" height="3.5"/><rect x="346" y="215.5" width="12" height="3.5"/>
<rect x="368" y="210.5" width="11" height="3.5"/><rect x="368" y="215.5" width="11" height="3.5"/>
<rect x="389" y="210.5" width="17" height="3.5"/><rect x="389" y="215.5" width="17" height="3.5"/>
</g>
<line x1="282" y1="278" x2="318" y2="278" stroke="#FFBA00" stroke-width="7" stroke-linecap="round"/>
<line x1="356" y1="278" x2="392" y2="278" stroke="#FFBA00" stroke-width="7" stroke-linecap="round"/>
<line x1="282" y1="341" x2="366" y2="341" stroke="#2F5FC2" stroke-width="7" stroke-linecap="round"/>
<line x1="403" y1="341" x2="406" y2="341" stroke="#2F5FC2" stroke-width="7" stroke-linecap="round"/>
<line x1="282" y1="401" x2="307" y2="401" stroke="#5A1A9A" stroke-width="7" stroke-linecap="round"/>
<line x1="324" y1="401" x2="349" y2="401" stroke="#5A1A9A" stroke-width="7" stroke-linecap="round"/>
<line x1="366" y1="401" x2="391" y2="401" stroke="#5A1A9A" stroke-width="7" stroke-linecap="round"/>
<line x1="285" y1="462" x2="402" y2="462" stroke="#00A84A" stroke-width="6" stroke-linecap="round"/>
<!-- panel b -->
<polyline points="326,935 541,879.6 755.7,829 971.6,804 1187,786.4 1401.4,786.3" fill="none" stroke="#0A6CC4" stroke-width="5" stroke-linejoin="round"/>
<g fill="#4A7CC2">
<ellipse cx="326" cy="935" rx="12" ry="9.5"/>
<ellipse cx="541" cy="879.6" rx="11" ry="9.5"/>
<ellipse cx="755.7" cy="829" rx="11" ry="9.5"/>
<ellipse cx="971.6" cy="804" rx="11" ry="9.5"/>
<ellipse cx="1187" cy="786.4" rx="11" ry="9.5"/>
<ellipse cx="1401.4" cy="786.3" rx="11" ry="9.5"/>
</g>
<line x1="218" y1="786.8" x2="1439" y2="786.8" stroke="#000" stroke-width="5.3"/>
<line x1="220" y1="784.2" x2="220" y2="1145.8" stroke="#000" stroke-width="4"/>
<line x1="218" y1="1143.2" x2="1443" y2="1143.2" stroke="#000" stroke-width="5.2"/>
<!-- texts -->
<text class="ss" transform="matrix(0.48295 0.00000 0.00000 0.53191 418.83638 115.82979)">Dosage (g)</text>
<text class="ss" transform="matrix(0.51420 0.00000 0.00000 0.52340 421.27219 172.70851)">Initial (0.00)</text>
<text class="ss" transform="matrix(0.53011 0.00000 0.00000 0.56901 423.87957 233.13099)">0.05</text>
<text class="ss" transform="matrix(0.53476 0.00000 0.00000 0.58028 422.86096 298.91972)">0.10</text>
<text class="ss" transform="matrix(0.53476 0.00000 0.00000 0.56901 423.86096 360.43099)">0.20</text>
<text class="ss" transform="matrix(0.53476 0.00000 0.00000 0.58169 423.86096 419.11831)">0.30</text>
<text class="ss" transform="matrix(0.52941 0.00000 0.00000 0.59437 424.88235 478.80563)">0.40</text>
<text class="ss" transform="matrix(0.53701 0.00000 0.00000 0.56338 127.70394 150.43662)">1.6</text>
<text class="ss" transform="matrix(0.53095 0.00000 0.00000 0.56000 127.05238 263.20000)">1.2</text>
<text class="ss" transform="matrix(0.53435 0.00000 0.00000 0.56620 126.16260 395.63380)">0.8</text>
<text class="ss" transform="matrix(0.54394 0.00000 0.00000 0.56620 124.32424 522.93380)">0.4</text>
<text class="ss" transform="matrix(0.50208 0.00000 0.00000 0.56338 174.49167 636.43662)">0</text>
<text class="ss" transform="matrix(0.52360 0.00000 0.00000 0.55775 197.45280 679.64225)">450</text>
<text class="ss" transform="matrix(0.53585 0.00000 0.00000 0.55493 338.45660 679.44507)">500</text>
<text class="ss" transform="matrix(0.52579 0.00000 0.00000 0.55775 508.89686 685.74225)">550</text>
<text class="ss" transform="matrix(0.53671 0.00000 0.00000 0.57324 696.31646 689.02676)">600</text>
<text class="ss" transform="matrix(0.53797 0.00000 0.00000 0.55775 870.31013 689.04225)">650</text>
<text class="ss" transform="matrix(0.54430 0.00000 0.00000 0.56620 1039.57848 694.83380)">700</text>
<text class="ss" transform="matrix(0.53797 0.00000 0.00000 0.56620 1210.31013 689.63380)">750</text>
<text class="sr" transform="matrix(0.81556 0.00000 0.00000 0.82714 613.55333 767.50000)">λ</text>
<text class="ss" transform="matrix(0.48912 0.00000 0.00000 0.57447 669.66528 757.93617)">(nm)</text>
<text class="ss" transform="matrix(0.00000 -0.55919 0.54362 0.00000 81.08404 597.20000)">Absorbance (a.u.)</text>
<text class="ss" transform="matrix(0.70455 0.00000 0.00000 0.76170 1288.27273 179.90426)">(a)</text>
<text class="ss" transform="matrix(0.50839 0.00000 0.00000 0.54930 125.83290 812.95070)">100</text>
<text class="ss" transform="matrix(0.50485 0.00000 0.00000 0.57042 145.48058 875.62958)">80</text>
<text class="ss" transform="matrix(0.50196 0.00000 0.00000 0.56901 144.29020 939.83099)">60</text>
<text class="ss" transform="matrix(0.51143 0.00000 0.00000 0.56620 140.67714 1012.43380)">40</text>
<text class="ss" transform="matrix(0.51078 0.00000 0.00000 0.56056 142.34608 1074.63944)">20</text>
<text class="ss" transform="matrix(0.53333 0.00000 0.00000 0.56620 166.86667 1163.33380)">0</text>
<text class="ss" transform="matrix(0.00000 -0.39250 0.41596 0.00000 99.76489 1170.94002)">Removal Efficiency (%</text>
<text class="ss" transform="matrix(0.50376 0.00000 0.00000 0.56620 289.58495 1199.33380)">0.05</text>
<text class="ss" transform="matrix(0.51337 0.00000 0.00000 0.57324 513.54652 1199.02676)">0.10</text>
<text class="ss" transform="matrix(0.51337 0.00000 0.00000 0.56620 712.24652 1197.43380)">0.20</text>
<text class="ss" transform="matrix(0.50802 0.00000 0.00000 0.57183 970.96791 1198.12817)">0.30</text>
<text class="ss" transform="matrix(0.51070 0.00000 0.00000 0.56620 1168.95722 1201.03380)">0.40</text>
<text class="ss" transform="matrix(0.51658 0.00000 0.00000 0.56761 1330.93369 1199.73239)">0.50</text>
<text class="ss" transform="matrix(0.46944 0.00000 0.00000 0.56064 716.44449 1255.92660)">Dosage (g)</text>
<text class="ss" transform="matrix(0.67909 0.00000 0.00000 0.76596 1318.42545 890.21489)">(b)</text>
</svg>
</body></html>
